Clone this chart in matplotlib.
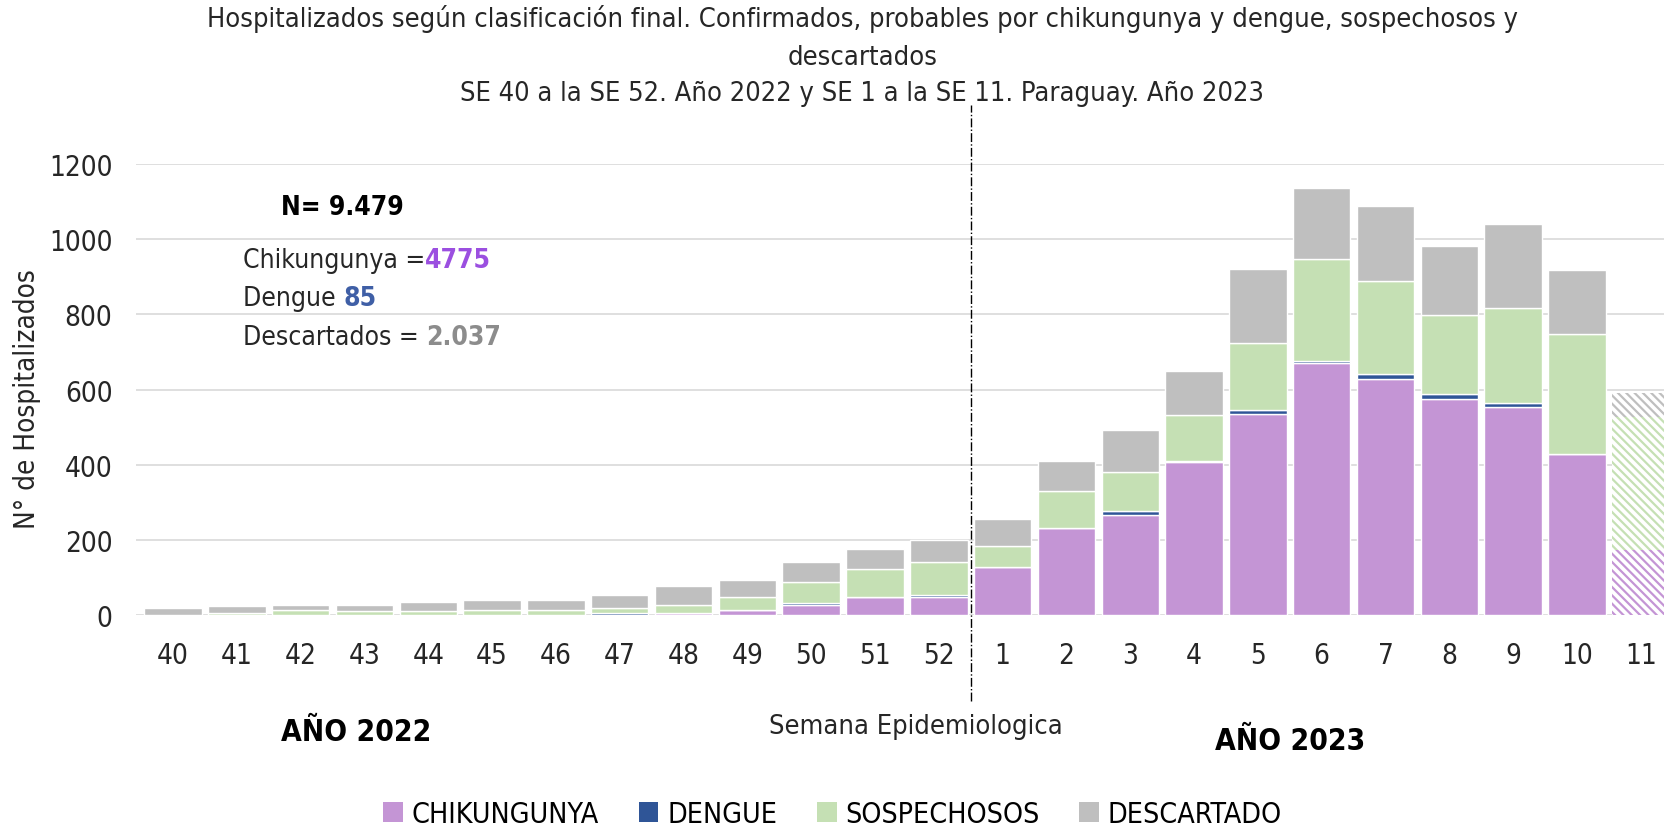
import matplotlib.pyplot as plt
from matplotlib.patches import Patch

plt.rcParams['font.family'] = ['Liberation Sans Narrow', 'DejaVu Sans']
plt.rcParams['font.stretch'] = 'condensed'
plt.rcParams['hatch.linewidth'] = 1.6

# Semanas epidemiologicas (SE 40-52 de 2022, SE 1-11 de 2023)
semanas = ['40', '41', '42', '43', '44', '45', '46', '47', '48', '49', '50', '51', '52',
           '1', '2', '3', '4', '5', '6', '7', '8', '9', '10', '11']

chikungunya = [0, 0, 0, 0, 0, 0, 0, 1, 5, 14, 26, 49, 47,
               128, 232, 266, 406, 536, 670, 627, 575, 553, 428, 172]
dengue = [0, 0, 0, 0, 0, 0, 0, 5, 0, 0, 6, 0, 7,
          1, 0, 10, 4, 9, 5, 13, 14, 10, 0, 0]
sospechosos = [0, 5, 14, 10, 10, 14, 14, 13, 22, 35, 56, 74, 86,
               56, 99, 104, 122, 178, 273, 248, 208, 255, 320, 354]
descartado = [18, 18, 13, 18, 26, 26, 26, 34, 49, 43, 52, 53, 60,
              70, 78, 112, 117, 199, 187, 199, 186, 222, 170, 66]

series = [
    ('CHIKUNGUNYA', chikungunya, '#C495D5'),
    ('DENGUE', dengue, '#2F5597'),
    ('SOSPECHOSOS', sospechosos, '#C5E0B4'),
    ('DESCARTADO', descartado, '#BFBFBF'),
]

fig = plt.figure(figsize=(16.65, 8.28), dpi=100)
ax = fig.add_axes([0.0817, 0.256, 0.9183, 0.5447])

x = list(range(len(semanas)))
bottom = [0] * len(semanas)
last = len(semanas) - 1
for name, vals, color in series:
    # semana 11 incompleta: barra rayada
    ax.bar(x[:last], vals[:last], bottom=bottom[:last], width=0.9, color=color,
           edgecolor='white', linewidth=1, zorder=3)
    ax.bar(x[last], vals[last], bottom=bottom[last], width=0.9, facecolor='white',
           edgecolor=color, hatch='\\\\\\\\', linewidth=0, zorder=3)
    bottom = [b + v for b, v in zip(bottom, vals)]

ax.set_ylim(0, 1200)
ax.set_xlim(-0.58, 23.38)
ax.set_yticks(range(0, 1201, 200))
ax.set_xticks(x)
ax.set_xticklabels(semanas)
ax.grid(axis='y', color='#D9D9D9', linewidth=1.2, zorder=0)
for s in ax.spines.values():
    s.set_visible(False)
ax.tick_params(length=0, labelsize=20, colors='#262626')
ax.tick_params(axis='x', pad=19)
ax.tick_params(axis='y', pad=17)
fig.text(0.016, 0.518, 'N° de Hospitalizados', rotation=90, ha='center', va='center',
         fontsize=20, color='#262626')

# linea divisoria entre años
ax.axvline(12.5, ymin=-0.19, ymax=1.13, color='black', linestyle='-.', linewidth=1,
           clip_on=False, zorder=4)

fig.text(0.518, 0.977, 'Hospitalizados según clasificación final. Confirmados, probables por chikungunya y dengue, sospechosos y',
         ha='center', va='center', fontsize=19.5, color='#262626')
fig.text(0.518, 0.930, 'descartados', ha='center', va='center', fontsize=19.5, color='#262626')
fig.text(0.518, 0.887, 'SE 40 a la SE 52. Año 2022 y SE 1 a la SE 11. Paraguay. Año 2023',
         ha='center', va='center', fontsize=19.5, color='#262626')

fig.text(0.214, 0.115, 'AÑO 2022', ha='center', va='center', fontsize=21.5, fontweight='bold')
fig.text(0.775, 0.105, 'AÑO 2023', ha='center', va='center', fontsize=21.5, fontweight='bold')
fig.text(0.55, 0.122, 'Semana Epidemiologica', ha='center', va='center', fontsize=19.5, color='#262626')

fig.text(0.169, 0.749, 'N= 9.479', ha='left', va='center', fontsize=19, fontweight='bold')
t = fig.text(0.146, 0.685, 'Chikungunya =', ha='left', va='center', fontsize=19, color='#262626')
ax.annotate('4775', xycoords=t, xy=(1, 0.5), va='center', ha='left', fontsize=19,
            fontweight='bold', color='#9B4FE0')
t = fig.text(0.146, 0.639, 'Dengue ', ha='left', va='center', fontsize=19, color='#262626')
ax.annotate('85', xycoords=t, xy=(1, 0.5), va='center', ha='left', fontsize=19,
            fontweight='bold', color='#3F5FA6')
t = fig.text(0.146, 0.592, 'Descartados = ', ha='left', va='center', fontsize=19, color='#262626')
ax.annotate('2.037', xycoords=t, xy=(1, 0.5), va='center', ha='left', fontsize=19,
            fontweight='bold', color='#8C8C8C')

handles = [Patch(facecolor=c, label=n) for n, v, c in series]
fig.legend(handles=handles, loc='center', bbox_to_anchor=(0.5, 0.016), ncol=4,
           frameon=False, fontsize=20.5, handlelength=0.7, handleheight=0.7,
           handletextpad=0.3, columnspacing=1.4)

fig.savefig('out.png', dpi=100)
